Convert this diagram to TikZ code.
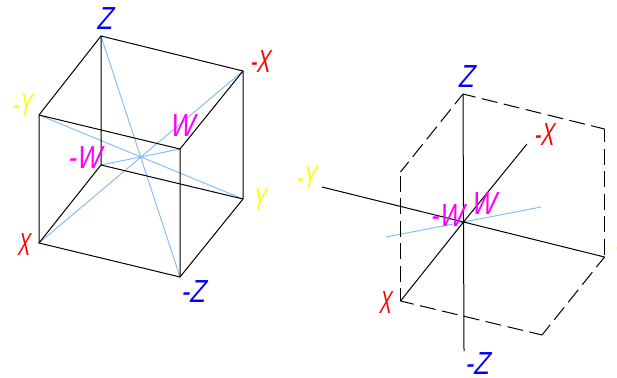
\documentclass[tikz,border=0pt]{standalone}
\usepackage{fontspec}
\setmainfont{Liberation Sans}[FakeSlant=0.3]
\definecolor{labred}{RGB}{255,0,0}
\definecolor{labyel}{RGB}{255,255,0}
\definecolor{labblu}{RGB}{0,0,255}
\definecolor{labmag}{RGB}{255,0,255}
\definecolor{diagblue}{RGB}{135,190,250}
\tikzset{
  edge/.style={black,line width=1pt},
  dashedge/.style={black,line width=1pt,dash pattern=on 16pt off 6.5pt,dash phase=3pt},
  diag/.style={color=diagblue,line width=1pt},
  lab/.style={inner sep=0pt,font=\fontsize{29}{29}\selectfont,transform shape,yscale=1.1},
  red lab/.style={lab,text=labred,xscale=0.62},
  redm lab/.style={lab,text=labred,xscale=0.68},
  yel lab/.style={lab,text=labyel,xscale=0.66},
  blu lab/.style={lab,text=labblu,xscale=0.88},
  mag lab/.style={lab,text=labmag,xscale=0.88}
}
\begin{document}
\begin{tikzpicture}[x=1pt,y=-1pt]
\useasboundingbox (0,0) rectangle (617,377);
\clip (0,0) rectangle (617,377);
% left cube
\coordinate (LZ) at (101,36);
\coordinate (LmX) at (243,71);
\coordinate (LmY) at (39,115);
\coordinate (LW) at (180,149);
\coordinate (LmW) at (101,165);
\coordinate (LX) at (39,243);
\coordinate (LmZ) at (180,277);
\coordinate (LY) at (243,199);
\draw[diag] (LZ) -- (LmZ) (LmX) -- (LX) (LmY) -- (LY) (LW) -- (LmW);
\draw[edge] (LZ) -- (LmX) -- (LY) -- (LmZ) -- (LX) -- (LmY) -- cycle;
\draw[edge] (LmY) -- (LW) -- (LmX) (LW) -- (LmZ);
\draw[edge] (LZ) -- (LmW) -- (LX) (LmW) -- (LY);
\node[blu lab] (tLZ) at (104,19) {Z};
\node[redm lab] (tLmX) at (259.5,62) {-X};
\node[yel lab] (tLmY) at (21.5,105) {-Y};
\node[mag lab] (tLW) at (181,126) {W};
\node[mag lab] (tLmW) at (83.5,158) {-W};
\node[yel lab] (tLY) at (258.5,200) {Y};
\node[red lab] (tLX) at (23,245) {X};
\node[blu lab] (tLmZ) at (192.5,291.5) {-Z};
% right cube
\coordinate (RZ) at (463,94);
\coordinate (RTR) at (604.5,129);
\coordinate (RY) at (604.5,257);
\coordinate (RB) at (542,335);
\coordinate (RX) at (400.5,301);
\coordinate (RL) at (400.5,172);
\coordinate (RC) at (463.5,222);
\coordinate (RmY) at (322,187);
\coordinate (RmX) at (527,144);
\coordinate (RmZ) at (464,351);
\coordinate (RWa) at (386,237);
\coordinate (RWb) at (541,207);
\draw[diag] (RWa) -- (RWb);
\draw[dashedge] (RZ) -- (RTR);
\draw[dashedge] (RTR) -- (RY);
\draw[dashedge] (RY) -- (RB);
\draw[dashedge] (RB) -- (RX);
\draw[dashedge] (RX) -- (RL);
\draw[dashedge] (RL) -- (RZ);
\draw[edge] (RZ) -- (RC) -- (RmZ);
\draw[edge] (RmY) -- (RC) -- (RY);
\draw[edge] (RmX) -- (RC) -- (RX);
\node[blu lab] (tRZ) at (465.5,77) {Z};
\node[redm lab] (tRmX) at (543.5,135) {-X};
\node[yel lab] (tRmY) at (305.5,178) {-Y};
\node[mag lab] (tRW) at (482.5,203.5) {W};
\node[mag lab] (tRmW) at (446,216) {-W};
\node[yel lab] (tRY) at (618.5,258.5) {Y};
\node[red lab] (tRX) at (384.5,303) {X};
\node[blu lab] (tRmZ) at (476.5,363.5) {-Z};
\end{tikzpicture}
\end{document}
